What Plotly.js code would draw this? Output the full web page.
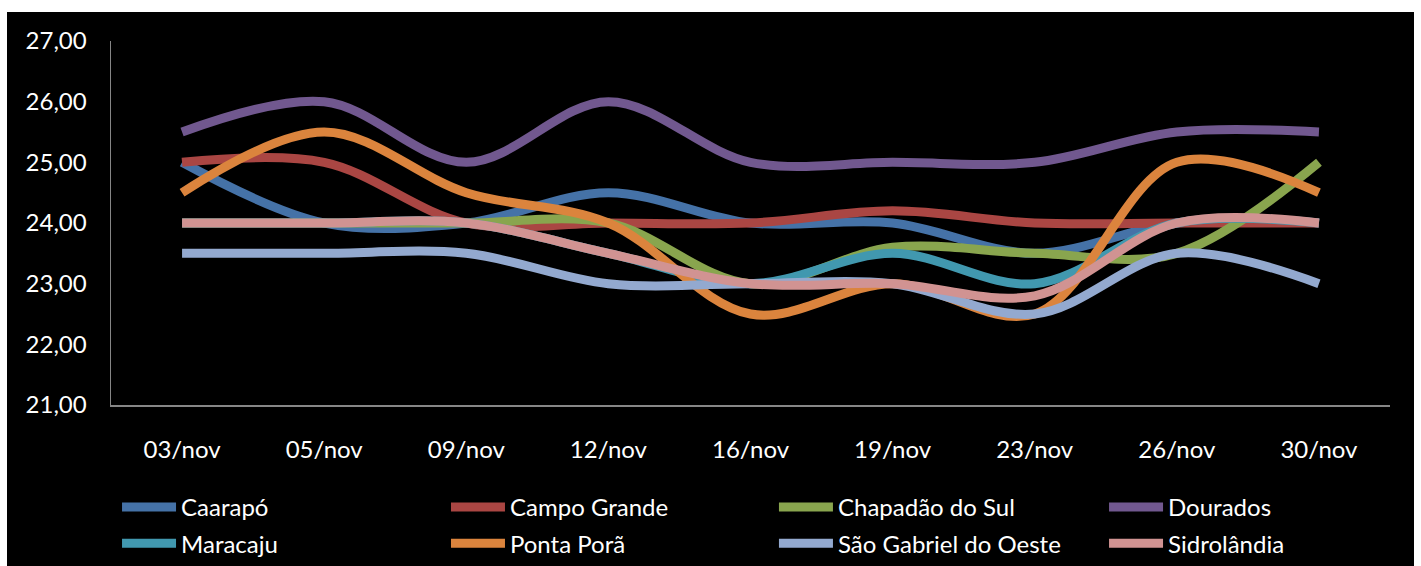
<!DOCTYPE html>
<html>
<head>
<meta charset="utf-8">
<script src="https://cdn.plot.ly/plotly-3.0.1.min.js"></script>
<style>
  html, body { margin: 0; padding: 0; background: #ffffff; width: 1421px; height: 566px; overflow: hidden; }
  #chart { position: absolute; left: 7px; top: 12px; width: 1407px; height: 554px; }
</style>
</head>
<body>
<div id="chart"></div>
<script>
const dates = ["03/nov", "05/nov", "09/nov", "12/nov", "16/nov", "19/nov", "23/nov", "26/nov", "30/nov"];

const caarapo     = [25.0, 24.0, 24.0, 24.5, 24.0, 24.0, 23.5, 24.0, 24.0];
const campoGrande = [25.0, 25.0, 24.0, 24.0, 24.0, 24.2, 24.0, 24.0, 24.0];
const chapadao    = [24.0, 24.0, 24.0, 24.0, 23.0, 23.6, 23.5, 23.5, 25.0];
const dourados    = [25.5, 26.0, 25.0, 26.0, 25.0, 25.0, 25.0, 25.5, 25.5];
const maracaju    = [24.0, 24.0, 24.0, 23.5, 23.0, 23.5, 23.0, 24.0, 24.0];
const pontaPora   = [24.5, 25.5, 24.5, 24.0, 22.5, 23.0, 22.5, 25.0, 24.5];
const saoGabriel  = [23.5, 23.5, 23.5, 23.0, 23.0, 23.0, 22.5, 23.5, 23.0];
const sidrolandia = [24.0, 24.0, 24.0, 23.5, 23.0, 23.0, 22.8, 24.0, 24.0];

const seriesNames = ["Caarapó", "Campo Grande", "Chapadão do Sul", "Dourados",
                     "Maracaju", "Ponta Porã", "São Gabriel do Oeste", "Sidrolândia"];
const seriesData = [caarapo, campoGrande, chapadao, dourados, maracaju, pontaPora, saoGabriel, sidrolandia];
const colors = ["#4572A7", "#AA4643", "#89A54E", "#71588F", "#4198AF", "#DB843D", "#93A9CF", "#D19392"];
// legend column for each series (4 columns x 2 rows, as in the reference)
const legendIds = ["legend", "legend2", "legend3", "legend4", "legend", "legend2", "legend3", "legend4"];

const traces = seriesNames.map((name, i) => ({
  type: "scatter",
  mode: "lines",
  name: name,
  x: dates,
  y: seriesData[i],
  legend: legendIds[i],
  legendgroup: "g" + i,
  line: { color: colors[i], width: 9, shape: "spline", smoothing: 1 },
  hoverinfo: "skip"
}));

const font = { family: "Lato, 'Open Sans', sans-serif", color: "#ffffff", size: 24 };

function legendAt(xPos) {
  return {
    orientation: "v",
    xref: "container",
    x: xPos,
    xanchor: "left",
    yref: "container",
    y: 0.1465,
    yanchor: "top",
    itemwidth: 54,
    traceorder: "grouped",
    tracegroupgap: 2,
    bgcolor: "rgba(0,0,0,0)",
    font: font
  };
}

const layout = {
  width: 1407,
  height: 554,
  paper_bgcolor: "#000000",
  plot_bgcolor: "#000000",
  separators: ",.",
  font: font,
  showlegend: true,
  margin: { l: 104, r: 24, t: 29, b: 161, pad: 0, autoexpand: false },
  xaxis: {
    type: "category",
    showgrid: false,
    zeroline: false,
    showline: true,
    linecolor: "#868686",
    linewidth: 1.5,
    ticks: "",
    ticklabelstandoff: 23,
    tickfont: font,
    range: [-0.5, 8.5]
  },
  yaxis: {
    range: [21, 27],
    dtick: 1,
    tick0: 21,
    tickformat: ".2f",
    showgrid: false,
    zeroline: false,
    showline: true,
    linecolor: "#868686",
    linewidth: 1.5,
    ticks: "",
    ticklabelstandoff: 18,
    tickfont: font
  },
  legend: legendAt(0.0782),
  legend2: legendAt(0.3120),
  legend3: legendAt(0.5451),
  legend4: legendAt(0.7797)
};

Plotly.newPlot("chart", traces, layout, { displayModeBar: false, staticPlot: true });
</script>
</body>
</html>
